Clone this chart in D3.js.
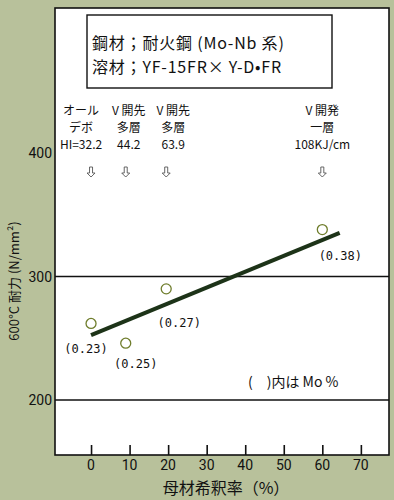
<!DOCTYPE html>
<html>
<head>
<meta charset="utf-8">
<script src="https://cdn.jsdelivr.net/npm/d3@7"></script>
<style>
  body { margin: 0; background: #b8c19b; }
  svg { display: block; font-family: "Noto Sans CJK JP", "Noto Sans", sans-serif; }
</style>
</head>
<body>
<div id="chart-div"></div>
<script>
// データ -----------------------------------------------------------------------
const dilution = [0, 9, 19.5, 60];          // 母材希釈率 (%)
const strength = [262, 246, 290, 338];      // 600°C 耐力 (N/mm2)
const moLabels = ['(0.23)', '(0.25)', '(0.27)', '(0.38)'];
const fitX = [0, 64.5];
const fitY = [252.5, 335.4];
const xTicks = [0, 10, 20, 30, 40, 50, 60, 70];
const yTicks = [200, 300, 400];
const gridValues = [200, 300];
const weldLines = [
  ['オール', 'デボ', 'HI=32.2'],
  ['V 開先', '多層', '44.2'],
  ['V 開先', '多層', '63.9'],
  ['V 開発', '一層', '108KJ/cm']
];
const boxLines = ['鋼材；耐火鋼 (Mo-Nb 系)', '溶材；YF-15FR× Y-D•FR'];

// 配置 -------------------------------------------------------------------------
const width = 394, height = 500;
const plot = {left: 55, right: 389, top: 8, bottom: 455};
const labelOffset = [[-5, 30], [10, 25], [13, 38], [18, 30]];
const weldOffset = [-10, 3, 7, 0];

const x = d3.scaleLinear().domain([-9.35, 77.3]).range([plot.left, plot.right]);
const y = d3.scaleLinear().domain([155.5, 517.4]).range([plot.bottom, plot.top]);

const svg = d3.select('#chart-div')
  .append('svg')
  .attr('width', width)
  .attr('height', height);

// プロット領域
svg.append('rect')
  .attr('x', plot.left).attr('y', plot.top)
  .attr('width', plot.right - plot.left).attr('height', plot.bottom - plot.top)
  .attr('fill', '#fff')
  .attr('stroke', '#111')
  .attr('stroke-width', 1.6);

// 横線
svg.append('g')
  .selectAll('line')
  .data(gridValues)
  .enter()
  .append('line')
  .attr('x1', plot.left).attr('x2', plot.right)
  .attr('y1', d => y(d)).attr('y2', d => y(d))
  .attr('stroke', '#111')
  .attr('stroke-width', 1.6);

// x軸 (内向き目盛)
const xAxis = svg.append('g')
  .attr('transform', 'translate(0,' + plot.bottom + ')')
  .call(d3.axisTop(x).tickValues(xTicks).tickSize(10).tickFormat(''));
xAxis.select('.domain').remove();
xAxis.selectAll('line').attr('stroke', '#111').attr('stroke-width', 1.6);

svg.append('g')
  .selectAll('text')
  .data(xTicks)
  .enter()
  .append('text')
  .attr('x', d => x(d))
  .attr('y', 470)
  .attr('text-anchor', 'middle')
  .attr('font-size', '14px')
  .style('font-family', 'Roboto, sans-serif')
  .attr('fill', '#111')
  .text(d => d);

// y軸ラベル
svg.append('g')
  .selectAll('text')
  .data(yTicks)
  .enter()
  .append('text')
  .attr('x', plot.left - 3)
  .attr('y', d => y(d) + 5)
  .attr('text-anchor', 'end')
  .attr('font-size', '14px')
  .style('font-family', 'Roboto, sans-serif')
  .attr('fill', '#111')
  .text(d => d);

// 軸タイトル
svg.append('text')
  .attr('transform', 'translate(19,281) rotate(-90)')
  .attr('text-anchor', 'middle')
  .attr('font-size', '13px')
  .attr('fill', '#111')
  .text('600°C 耐力 (N/mm²)');

svg.append('text')
  .attr('x', 226)
  .attr('y', 494)
  .attr('text-anchor', 'middle')
  .attr('font-size', '16px')
  .attr('fill', '#111')
  .text('母材希釈率（%）');

// 鋼材・溶材の枠
svg.append('rect')
  .attr('x', 87).attr('y', 15)
  .attr('width', 245).attr('height', 73)
  .attr('fill', 'none')
  .attr('stroke', '#111')
  .attr('stroke-width', 1.4);

svg.append('g')
  .selectAll('text')
  .data(boxLines)
  .enter()
  .append('text')
  .attr('x', 92)
  .attr('y', (d, i) => 49 + i * 24)
  .attr('font-size', '16px')
  .attr('letter-spacing', '0.8px')
  .attr('fill', '#111')
  .text(d => d);

// 溶接条件の注記
const weld = svg.append('g')
  .selectAll('g')
  .data(weldLines)
  .enter()
  .append('g')
  .attr('transform', (d, i) => 'translate(' + (x(dilution[i]) + weldOffset[i]) + ',0)');

weld.selectAll('text')
  .data(d => d)
  .enter()
  .append('text')
  .attr('x', 0)
  .attr('y', (d, j) => 115 + j * 17)
  .attr('text-anchor', 'middle')
  .attr('font-size', '12px')
  .attr('fill', '#111')
  .text(d => d);

// 白抜き矢印 ⇩
const arrowPath = 'M-1.5,-5 L1.5,-5 L1.5,1 L4,1 L0,5 L-4,1 L-1.5,1 Z';
svg.append('g')
  .selectAll('path')
  .data(dilution)
  .enter()
  .append('path')
  .attr('transform', d => 'translate(' + x(d) + ',172)')
  .attr('d', arrowPath)
  .attr('fill', 'none')
  .attr('stroke', '#555')
  .attr('stroke-width', 0.9);

// 回帰線
svg.append('line')
  .attr('x1', x(fitX[0])).attr('y1', y(fitY[0]))
  .attr('x2', x(fitX[1])).attr('y2', y(fitY[1]))
  .attr('stroke', '#1d3318')
  .attr('stroke-width', 4);

// データ点
svg.append('g')
  .selectAll('circle')
  .data(dilution)
  .enter()
  .append('circle')
  .attr('cx', d => x(d))
  .attr('cy', (d, i) => y(strength[i]))
  .attr('r', 5)
  .attr('fill', 'none')
  .attr('stroke', '#6f7d2c')
  .attr('stroke-width', 1.3);

// Mo量ラベル
svg.append('g')
  .selectAll('text')
  .data(moLabels)
  .enter()
  .append('text')
  .attr('x', (d, i) => x(dilution[i]) + labelOffset[i][0])
  .attr('y', (d, i) => y(strength[i]) + labelOffset[i][1])
  .attr('text-anchor', 'middle')
  .attr('font-size', '12px')
  .style('font-family', '"DejaVu Sans Mono", monospace')
  .attr('fill', '#111')
  .text(d => d);

svg.append('text')
  .attr('x', 248)
  .attr('y', 387)
  .attr('font-size', '14px')
  .attr('fill', '#111')
  .text('(　)内は Mo %');
</script>
</body>
</html>
